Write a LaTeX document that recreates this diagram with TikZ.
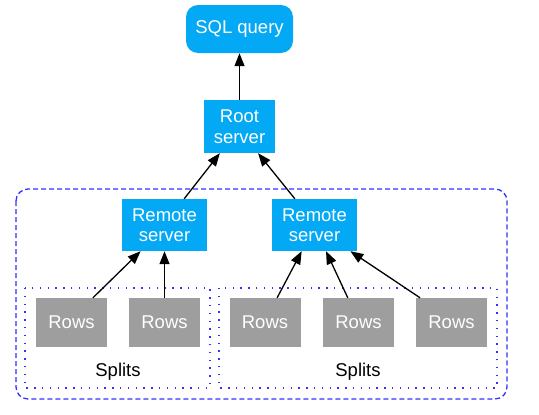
\documentclass[tikz,border=0pt]{standalone}
\usepackage{fontspec}
\setmainfont{Liberation Sans}
\usetikzlibrary{calc,arrows.meta}
\definecolor{nodeblue}{HTML}{03A9F4}
\definecolor{rowgray}{HTML}{9E9E9E}
\definecolor{lineblue}{HTML}{3333FF}
\tikzset{
  bluebox/.style={fill=nodeblue, draw=none, text=white, align=center, inner sep=0pt,
    font=\fontsize{18.5}{20.5}\selectfont},
  rowbox/.style={fill=rowgray, draw=none, text=white, inner sep=0pt,
    minimum width=71pt, minimum height=49pt, font=\fontsize{18.5}{20.5}\selectfont},
  arr/.style={-{Triangle[length=13pt,width=10pt]}, line width=1.3pt, black},
  dashbox/.style={draw=lineblue, line width=1.3pt, dash pattern=on 5pt off 3pt, rounded corners=12pt},
  dotbox/.style={draw=lineblue, line width=1.4pt, dash pattern=on 1.4pt off 6.4pt},
  lbl/.style={font=\fontsize{18.5}{20.5}\selectfont, text=black, inner sep=0pt}
}
\begin{document}
\begin{tikzpicture}[x=1pt,y=-1pt]
\useasboundingbox (0,0) rectangle (539,415);
% containers
\draw[dashbox] (16,189) rectangle (507,399);
\draw[dotbox] (25,288) rectangle (210,388);
\draw[dotbox] (219,288) rectangle (497,388);
% nodes
\node[bluebox, minimum width=107pt, minimum height=48pt, rounded corners=12pt] (sql) at (239.5,29) {SQL query};
\node[bluebox, minimum width=71pt, minimum height=53pt] (root) at (239.5,126.5) {Root\\server};
\node[bluebox, minimum width=85pt, minimum height=52pt] (rs1) at (164.5,225) {Remote\\server};
\node[bluebox, minimum width=85pt, minimum height=52pt] (rs2) at (314.5,225) {Remote\\server};
\node[rowbox] (r1) at (71.5,322.5) {Rows};
\node[rowbox] (r2) at (164.5,322.5) {Rows};
\node[rowbox] (r3) at (265,322.5) {Rows};
\node[rowbox] (r4) at (358.5,322.5) {Rows};
\node[rowbox] (r5) at (451.5,322.5) {Rows};
\node[lbl] (s1) at (118,372) {Splits};
\node[lbl] (s2) at (358,372) {Splits};
% connectors
\draw[arr] (root.north) -- (sql.south);
\draw[arr] ($(rs1.north west)!0.73!(rs1.north east)$) -- ($(root.south west)!0.225!(root.south east)$);
\draw[arr] ($(rs2.north west)!0.27!(rs2.north east)$) -- ($(root.south west)!0.76!(root.south east)$);
\draw[arr] ($(r1.north west)!0.8!(r1.north east)$) -- ($(rs1.south west)!0.22!(rs1.south east)$);
\draw[arr] (r2.north) -- (rs1.south);
\draw[arr] ($(r3.north west)!0.67!(r3.north east)$) -- ($(rs2.south west)!0.35!(rs2.south east)$);
\draw[arr] ($(r4.north west)!0.35!(r4.north east)$) -- ($(rs2.south west)!0.635!(rs2.south east)$);
\draw[arr] ($(r5.north west)!0.06!(r5.north east)$) -- ($(rs2.south west)!0.92!(rs2.south east)$);
\end{tikzpicture}
\end{document}
